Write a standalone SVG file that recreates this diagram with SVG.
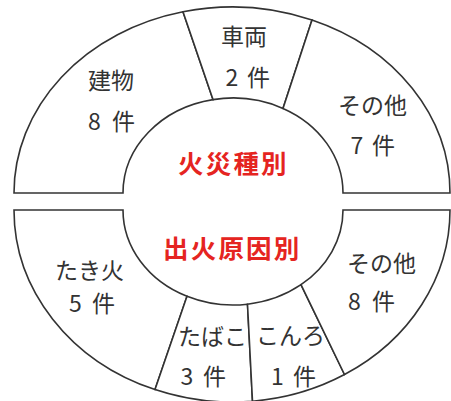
<svg xmlns="http://www.w3.org/2000/svg" width="451" height="401" viewBox="0 0 451 401">
<style>
.seg{fill:#fff;stroke:#333;stroke-width:1.6;stroke-linejoin:miter}
.lbl{font-family:"Noto Sans CJK JP","Noto Sans",sans-serif;font-size:23px;fill:#333}
.ttl{font-family:"Noto Sans CJK JP","Noto Sans",sans-serif;font-size:25.5px;font-weight:bold;fill:#e52421;letter-spacing:2.2px}
</style>
<rect width="451" height="401" fill="#fff"/>
<g id="connectors"></g>
<g id="fire-type">
  <g id="building">
    <path class="seg" d="M14,193 A218,186 0 0 1 183,11.8 L213,99.6 A110,95 0 0 0 123,193 Z"/>
    <text class="lbl" x="88" y="89">建物</text>
    <text class="lbl" y="130"><tspan x="88">8</tspan> <tspan x="112">件</tspan></text>
  </g>
  <g id="vehicle">
    <path class="seg" d="M183,11.8 A218,186 0 0 1 312,20 L283,108.4 A110,95 0 0 0 213,99.6 Z"/>
    <text class="lbl" x="221" y="45">車両</text>
    <text class="lbl" y="86"><tspan x="225.5">2</tspan> <tspan x="247">件</tspan></text>
  </g>
  <g id="other-type">
    <path class="seg" d="M312,20 A218,186 0 0 1 450,193 L343,193 A110,95 0 0 0 283,108.4 Z"/>
    <text class="lbl" x="338" y="114">その他</text>
    <text class="lbl" y="154"><tspan x="350.5">7</tspan> <tspan x="372">件</tspan></text>
  </g>
  <text id="title-type" class="ttl" x="178" y="173">火災種別</text>
</g>
<g id="fire-cause">
  <g id="bonfire">
    <path class="seg" d="M14,210 L123,210 A110,95 0 0 0 187,296.3 L155,389.6 A218,192 0 0 1 14,210 Z"/>
    <text class="lbl" x="55" y="279">たき火</text>
    <text class="lbl" y="312"><tspan x="69">5</tspan> <tspan x="92">件</tspan></text>
  </g>
  <g id="tobacco">
    <path class="seg" d="M187,296.3 A110,95 0 0 0 247.5,304.2 L252.5,401.2 A218,192 0 0 1 155,389.6 Z"/>
    <text class="lbl" x="178" y="345">たばこ</text>
    <text class="lbl" y="385"><tspan x="180.5">3</tspan> <tspan x="203">件</tspan></text>
  </g>
  <g id="stove">
    <path class="seg" d="M247.5,304.2 A110,95 0 0 0 301,284.7 L344.5,374.5 A218,192 0 0 1 252.5,401.2 Z"/>
    <text class="lbl" x="256" y="344">こんろ</text>
    <text class="lbl" y="385"><tspan x="271">1</tspan> <tspan x="293">件</tspan></text>
  </g>
  <g id="other-cause">
    <path class="seg" d="M301,284.7 A110,95 0 0 0 343,210 L450,210 A218,192 0 0 1 344.5,374.5 Z"/>
    <text class="lbl" x="347" y="272">その他</text>
    <text class="lbl" y="310"><tspan x="348">8</tspan> <tspan x="372">件</tspan></text>
  </g>
  <text id="title-cause" class="ttl" x="163" y="258">出火原因別</text>
</g>
</svg>
